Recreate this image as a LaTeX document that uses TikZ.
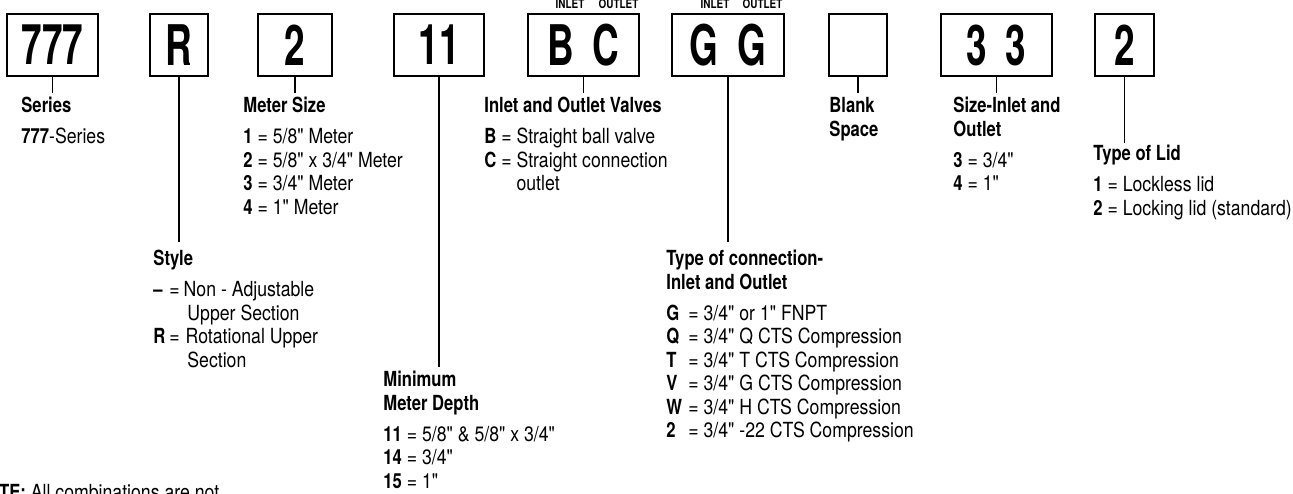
\documentclass[tikz,border=0pt]{standalone}
\usepackage{fontspec}
\setmainfont{TeX Gyre Heros}[Ligatures=TeXOff,UprightFeatures={FakeStretch=0.85},BoldFeatures={FakeStretch=0.80}]
\newfontfamily\digf{TeX Gyre Heros}[FakeStretch=0.66]
\tikzset{box/.style={draw,line width=1pt,inner sep=0,minimum height=31pt,font=\digf\bfseries\fontsize{28}{28}\selectfont},
 lab/.style={anchor=north west,inner sep=0,align=left,font=\fontsize{10.4}{11.75}\selectfont},
 io/.style={anchor=base,inner sep=0,font=\bfseries\fontsize{6.2}{6.5}\selectfont},
 wire/.style={line width=.6pt}}
\begin{document}
\begin{tikzpicture}[x=.5pt,y=-.5pt]
\useasboundingbox (0,0) rectangle (1293,493);
\node[box,minimum width=45.5pt] (b777) at (52.5,45) {777};
\node[box,minimum width=29pt] (bR) at (179,45) {R};
\node[box,minimum width=37pt] (bSz) at (295,45) {2};
\node[box,minimum width=45pt] (bDp) at (439,45) {11};
\node[box,minimum width=55.5pt] (bVl) at (583.5,45) {B\,\,C};
\node[box,minimum width=56pt] (bCn) at (728,45) {G\,\,G};
\node[box,minimum width=29pt] (bBl) at (858,45) {};
\node[box,minimum width=55.5pt] (bIO) at (996.5,45) {3\,\,3};
\node[box,minimum width=29.5pt] (bLd) at (1124.5,45) {2};
\node[io] (iV) at (570,8) {INLET};\node[io] (oV) at (618.5,8) {OUTLET};
\node[io] (iC) at (715,8) {INLET};\node[io] (oC) at (762.5,8) {OUTLET};
\node[lab] (tSer) at (21,97) {\textbf{Series}\\[3.7pt]\textbf{777}-Series};
\node[lab] (tSty) at (153,250) {\textbf{Style}\\[3.7pt]\makebox[8pt][l]{\textbf{–}}=\hspace{2pt}Non - Adjustable\\
 \hspace*{17pt}Upper Section\\\makebox[8pt][l]{\textbf{R}}=\hspace{3pt}Rotational Upper\\\hspace*{17pt}Section};
\node[lab] (tSz) at (243,97) {\textbf{Meter Size}\\[3.7pt]\textbf{1} = 5/8" Meter\\\textbf{2} = 5/8" x 3/4" Meter\\
 \textbf{3} = 3/4" Meter\\\textbf{4} = 1" Meter};
\node[lab] (tDp) at (383,371) {\textbf{Minimum}\\\textbf{Meter Depth}\\[3.7pt]\textbf{11} = 5/8" \& 5/8" x 3/4"\\
 \textbf{14} = 3/4"\\\textbf{15} = 1"};
\node[lab] (tVl) at (484,97) {\textbf{Inlet and Outlet Valves}\\[3.7pt]\textbf{B} = Straight ball valve\\
 \textbf{C} = Straight connection\\\phantom{\textbf{C} = }outlet};
\node[lab] (tCn) at (666,250) {\textbf{Type of connection-}\\\textbf{Inlet and Outlet}\\[3.7pt]
 \makebox[11pt][l]{\textbf{G}}= 3/4" or 1" FNPT\\\makebox[11pt][l]{\textbf{Q}}= 3/4" Q CTS Compression\\
 \makebox[11pt][l]{\textbf{T}}= 3/4" T CTS Compression\\\makebox[11pt][l]{\textbf{V}}= 3/4" G CTS Compression\\
 \makebox[11pt][l]{\textbf{W}}= 3/4" H CTS Compression\\\makebox[11pt][l]{\textbf{2}}= 3/4" -22 CTS Compression};
\node[lab] (tBl) at (829,97) {\textbf{Blank}\\\textbf{Space}};
\node[lab] (tIO) at (953,97) {\textbf{Size-Inlet and}\\\textbf{Outlet}\\[3.7pt]\textbf{3} = 3/4"\\\textbf{4} = 1"};
\node[lab] (tLd) at (1093,145) {\textbf{Type of Lid}\\[3.7pt]\textbf{1} = Lockless lid\\\textbf{2} = Locking lid (standard)};
\node[lab,anchor=base west] (note) at (-26,499) {\textbf{NOTE:} All combinations are not};
\draw[wire] (b777.south)--([yshift=2pt]b777.south|-tSer.north);\draw[wire] (bR.south)--([yshift=4pt]bR.south|-tSty.north);
\draw[wire] (bSz.south)--([yshift=2pt]bSz.south|-tSz.north);\draw[wire] (bDp.south)--([yshift=2pt]bDp.south|-tDp.north);
\draw[wire] (bVl.south)--([yshift=2pt]bVl.south|-tVl.north);\draw[wire] (bCn.south)--([yshift=4pt]bCn.south|-tCn.north);
\draw[wire] (bBl.south)--([yshift=2pt]bBl.south|-tBl.north);\draw[wire] (bIO.south)--([yshift=2pt]bIO.south|-tIO.north);
\draw[wire] (bLd.south)--([yshift=1pt]bLd.south|-tLd.north);
\end{tikzpicture}
\end{document}
